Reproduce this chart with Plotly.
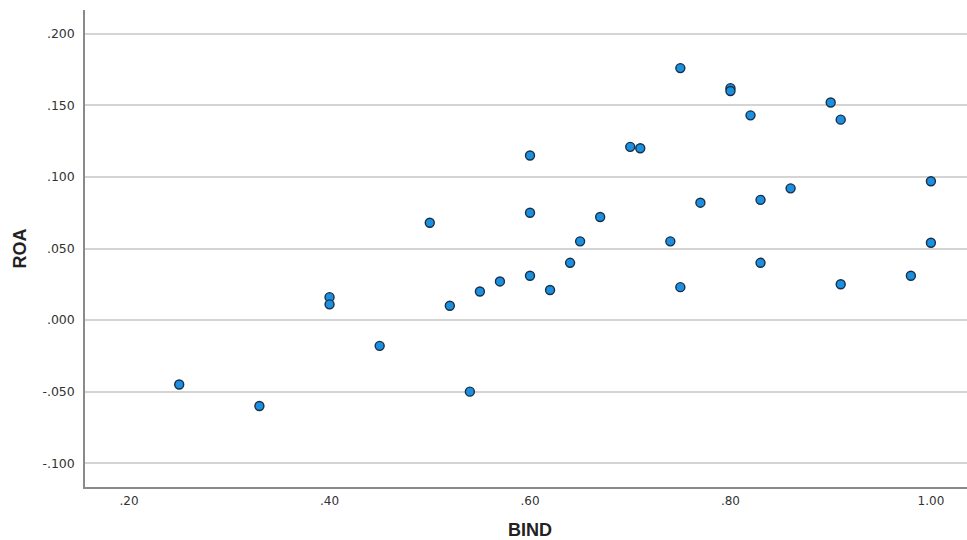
import plotly.graph_objects as go

bind = [0.25, 0.33, 0.40, 0.40, 0.45, 0.50, 0.52, 0.54, 0.55, 0.57,
        0.60, 0.60, 0.60, 0.62, 0.64, 0.65, 0.67, 0.70, 0.71, 0.74,
        0.75, 0.75, 0.77, 0.80, 0.80, 0.82, 0.83, 0.83, 0.86, 0.90,
        0.91, 0.91, 0.98, 1.00, 1.00]
roa = [-0.045, -0.060, 0.016, 0.011, -0.018, 0.068, 0.010, -0.050, 0.020, 0.027,
       0.115, 0.075, 0.031, 0.021, 0.040, 0.055, 0.072, 0.121, 0.120, 0.055,
       0.176, 0.023, 0.082, 0.162, 0.160, 0.143, 0.084, 0.040, 0.092, 0.152,
       0.140, 0.025, 0.031, 0.097, 0.054]

x_tickvals = [0.2, 0.4, 0.6, 0.8, 1.0]
x_ticktext = [".20", ".40", ".60", ".80", "1.00"]
y_tickvals = [-0.1, -0.05, 0.0, 0.05, 0.1, 0.15, 0.2]
y_ticktext = ["-.100", "-.050", ".000", ".050", ".100", ".150", ".200"]

fig = go.Figure()
fig.add_trace(go.Scatter(
    x=bind, y=roa, mode="markers",
    marker=dict(size=9, color="#1b8fe0", line=dict(color="#1a2f45", width=1.4)),
    showlegend=False,
))

fig.update_layout(
    width=967, height=540,
    margin=dict(l=85, r=0, t=10, b=53),
    paper_bgcolor="white", plot_bgcolor="white",
    xaxis=dict(
        range=[0.156, 1.036],
        tickvals=x_tickvals, ticktext=x_ticktext,
        showgrid=False, zeroline=False, automargin=False,
        showline=True, linecolor="#8a8a8a", linewidth=1.5,
        ticks="", ticklabelstandoff=2,
        tickfont=dict(family="DejaVu Sans, Verdana", size=12, color="#333333"),
    ),
    yaxis=dict(
        range=[-0.1166, 0.2166],
        tickvals=y_tickvals, ticktext=y_ticktext,
        showgrid=True, gridcolor="#d4d4d4", gridwidth=1.5,
        zeroline=False, automargin=False,
        showline=True, linecolor="#8a8a8a", linewidth=1.5,
        ticks="", ticklabelstandoff=6,
        tickfont=dict(family="DejaVu Sans, Verdana", size=12.5, color="#333333"),
    ),
    annotations=[
        dict(text="<b>BIND</b>", xref="paper", yref="paper", x=0.5, y=0,
             xanchor="center", yanchor="middle", yshift=-43, xshift=4, showarrow=False,
             font=dict(family="Liberation Sans, Arial", size=18, color="#222222")),
        dict(text="<b>ROA</b>", xref="paper", yref="paper", x=0, y=0.5,
             xanchor="center", yanchor="middle", xshift=-66, textangle=-90, showarrow=False,
             font=dict(family="Liberation Sans, Arial", size=18, color="#222222")),
    ],
)

fig.write_html("out.html")
